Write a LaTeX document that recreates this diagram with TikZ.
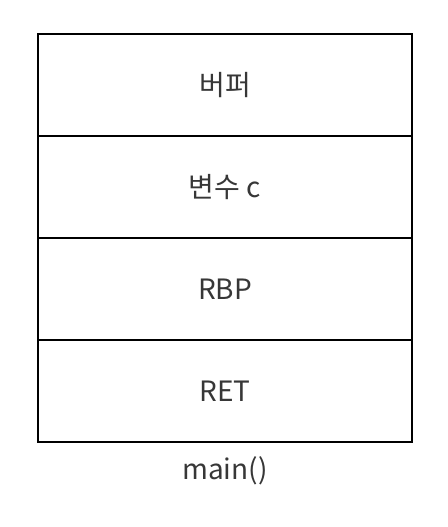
\documentclass[tikz,border=0pt]{standalone}
\usepackage{fontspec}
\setmainfont{Noto Sans CJK KR}
\definecolor{labelgray}{RGB}{55,55,55}
\tikzset{
  cell/.style={draw, line width=2.2pt, minimum width=374pt, minimum height=102pt,
    inner sep=0pt, text=labelgray, font=\fontsize{28}{31}\selectfont},
}
\begin{document}
\begin{tikzpicture}[x=1pt, y=-1pt]
      \useasboundingbox (0,0) rectangle (447,527);
      \node[cell] (buf) at (225,85){버퍼};
      \node[cell] (varc) at (225,187){변수 c};
      \node[cell] (rbp) at (225,289){RBP};
      \node[cell] (ret) at (225,391){RET};
      \node[text=labelgray, font=\fontsize{28}{31}\selectfont] (fname) at (225,471){main()};
    \end{tikzpicture}
\end{document}
